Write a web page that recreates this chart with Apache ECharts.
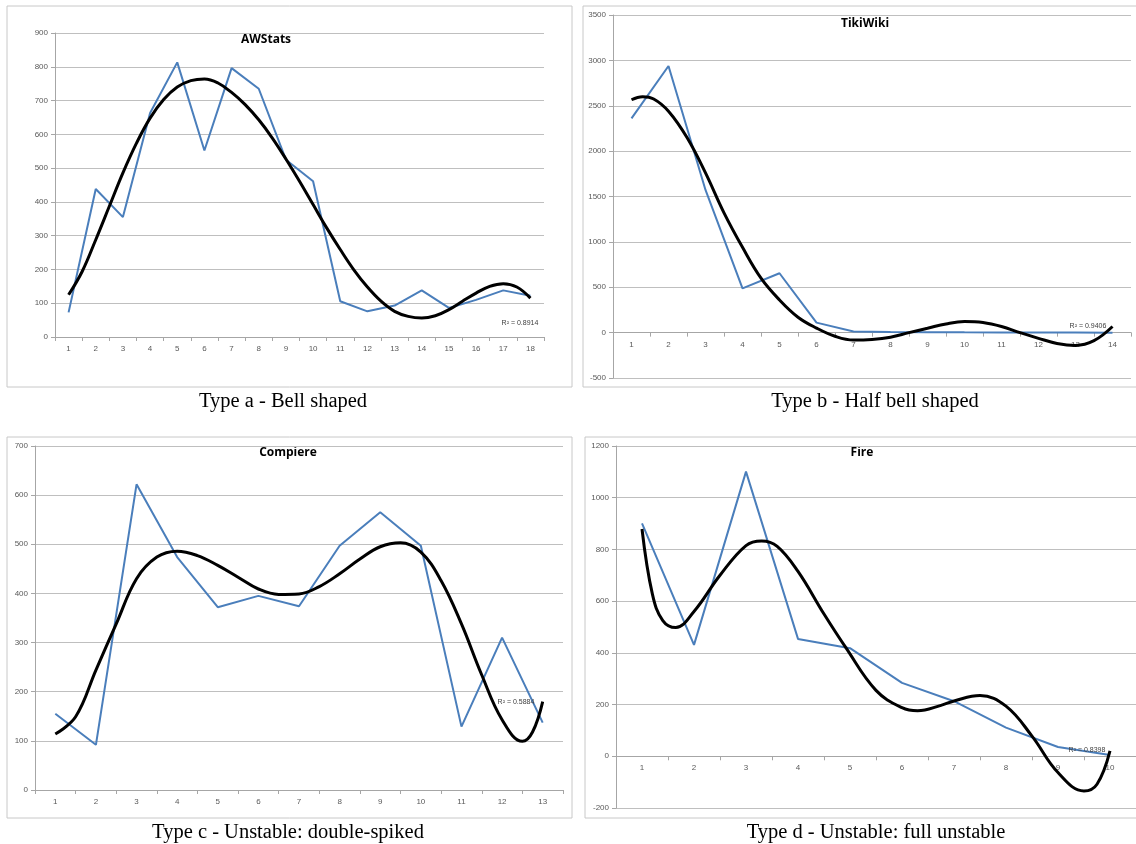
<!DOCTYPE html>
<html>
<head>
<meta charset="utf-8">
<script src="https://cdn.jsdelivr.net/npm/echarts@6/dist/echarts.min.js"></script>
<style>
html,body{margin:0;padding:0;background:#fff;}
#chart{width:1136px;height:844px;}
</style>
</head>
<body>
<div id="chart"></div>
<script>
// ---------- data ----------
const catsA = [1,2,3,4,5,6,7,8,9,10,11,12,13,14,15,16,17,18];
const valuesA = [73,438,355,663,813,552,796,735,525,461,106,76,93,138,86,110,138,122];
const trendA = [[1,125],[1.5,194],[2,288],[2.5,387],[3,486],[3.5,574],[4,648],[4.5,703],[5,740],[5.5,759],[6,764],[6.5,752],[7,724],[7.5,688],[8,643],[8.5,589],[9,527],[9.5,461],[10,392],[10.5,323],[11,259],[11.5,199],[12,148],[12.5,106],[13,76],[13.5,61],[14,56],[14.5,63],[15,81],[15.5,106],[16,130],[16.5,150],[17,158],[17.5,148],[18,115]];

const catsB = [1,2,3,4,5,6,7,8,9,10,11,12,13,14];
const valuesB = [2361,2938,1572,488,654,110,12,8,5,3,2,1,1,0];
const trendB = [[1,2566],[1.3,2600],[1.6,2575],[2,2440],[2.5,2150],[3,1760],[3.5,1320],[4,940],[4.5,600],[5,360],[5.5,170],[6,50],[6.5,-40],[7,-82],[7.5,-75],[8,-50],[8.5,0],[9,48],[9.5,96],[10,122],[10.5,111],[11,67],[11.5,0],[12,-63],[12.5,-119],[13,-141],[13.5,-89],[14,67]];

const catsC = [1,2,3,4,5,6,7,8,9,10,11,12,13];
const valuesC = [155,92,622,474,372,395,374,497,565,497,129,310,137];
const trendC = [[1,114],[1.5,149],[2,244],[2.5,338],[3,430],[3.5,474],[4,486],[4.5,477],[5,457],[5.5,433],[6,409],[6.5,398],[7,399],[7.5,414],[8,440],[8.5,470],[9,495],[9.5,503],[10,484],[10.5,426],[11,338],[11.5,234],[12,143],[12.5,99],[12.75,118],[13,180]];

const catsD = [1,2,3,4,5,6,7,8,9,10];
const valuesD = [901,431,1101,454,418,284,213,111,36,5];
const trendD = [[1,879],[1.2,627],[1.4,525],[1.65,498],[2,560],[2.5,700],[3,815],[3.3,833],[3.6,812],[4,715],[4.5,550],[4.92,420],[5.5,255],[6,188],[6.3,176],[6.75,197],[7,214],[7.5,235],[8,194],[8.5,78],[9,-63],[9.5,-134],[9.75,-108],[10,21]];

const titles = ['AWStats','TikiWiki','Compiere','Fire'];
const captions = ['Type a - Bell shaped','Type b - Half bell shaped','Type c - Unstable: double-spiked','Type d - Unstable: full unstable'];
const r2Labels = ['R\u00B2 = 0.8914','R\u00B2 = 0.9406','R\u00B2 = 0.5884','R\u00B2 = 0.8398'];

// ---------- layout ----------
const grids = [
  {left:55, top:33, width:489, height:304},
  {left:613, top:15, width:518, height:363},
  {left:35, top:446, width:528, height:344},
  {left:616, top:446, width:520, height:362}
];
const yRanges = [[0,900,100],[-500,3500,500],[0,700,100],[-200,1200,200]];
const cats = [catsA,catsB,catsC,catsD];
const vals = [valuesA,valuesB,valuesC,valuesD];
const trends = [trendA,trendB,trendC,trendD];
const frames = [[7,6,565,381],[583,6,560,381],[7,437,565,381],[585,437,560,381]];
const titlePos = [[266,40],[865,24],[288,453],[862,453]];
const captionPos = [[283,402],[875,402],[288,833],[876,833]];
const r2Pos = [[520,323],[1088,326],[516,702],[1087,750]];

const axisFont = {fontFamily:'Liberation Sans', fontSize:8, color:'#595959'};
const xAxes = [], yAxes = [], series = [], graphics = [];
for (let k=0;k<4;k++){
  const n = cats[k].length;
  const tickPos = [];
  for (let i=0;i<=n;i++) tickPos.push(i+0.5);
  const yMin = yRanges[k][0], yMax = yRanges[k][1];
  // place the category axis on the zero line (Excel style)
  const zeroOffset = -grids[k].height * Math.max(0, -yMin) / (yMax - yMin);
  xAxes.push({
    type:'value', gridIndex:k, min:0.5, max:n+0.5, position:'bottom', offset:zeroOffset,
    axisLine:{show:true, onZero:false, lineStyle:{color:'#a6a6a6', width:1}},
    axisTick:{show:true, length:4, customValues:tickPos, lineStyle:{color:'#a6a6a6'}},
    axisLabel:Object.assign({margin:8, customValues:cats[k], formatter:v=>String(v)}, axisFont),
    splitLine:{show:false}
  });
  yAxes.push({
    type:'value', gridIndex:k, min:yMin, max:yMax, interval:yRanges[k][2],
    axisLine:{show:true, onZero:false, lineStyle:{color:'#a6a6a6', width:1}},
    axisTick:{show:true, length:4, lineStyle:{color:'#a6a6a6'}},
    axisLabel:Object.assign({margin:7, formatter:v=>String(v)}, axisFont),
    splitLine:{show:true, lineStyle:{color:'#bfbfbf', width:1}}
  });
  series.push({
    type:'line', xAxisIndex:k, yAxisIndex:k, data:vals[k].map((v,i)=>[cats[k][i], v]), symbol:'none',
    lineStyle:{color:'#4a7ebb', width:2}, z:2
  });
  series.push({
    type:'line', xAxisIndex:k, yAxisIndex:k, data:trends[k], symbol:'none', smooth:0.4,
    lineStyle:{color:'#000000', width:3}, z:3
  });
  graphics.push({
    type:'rect', shape:{x:frames[k][0], y:frames[k][1], width:frames[k][2], height:frames[k][3]},
    style:{fill:'none', stroke:'#c8c8c8', lineWidth:1}, z:-1
  });
  graphics.push({
    type:'text', x:titlePos[k][0], y:titlePos[k][1],
    style:{text:titles[k], fill:'#000', font:'bold 12px "Open Sans", "Liberation Sans"', align:'center', verticalAlign:'middle', textAlign:'center', textVerticalAlign:'middle'}
  });
  graphics.push({
    type:'text', x:captionPos[k][0], y:captionPos[k][1],
    style:{text:captions[k], fill:'#000', font:'20.5px "Liberation Serif", "DejaVu Serif"', align:'center', verticalAlign:'middle', textAlign:'center', textVerticalAlign:'middle'}
  });
  graphics.push({
    type:'text', x:r2Pos[k][0], y:r2Pos[k][1], z:10,
    style:{text:r2Labels[k], fill:'#404040', font:'7px "Liberation Sans"', align:'center', verticalAlign:'middle', textAlign:'center', textVerticalAlign:'middle'}
  });
}

const chart = echarts.init(document.getElementById('chart'), null, {renderer:'canvas'});
chart.setOption({
  animation:false,
  backgroundColor:'#ffffff',
  grid:grids,
  xAxis:xAxes,
  yAxis:yAxes,
  series:series,
  graphic:graphics
});
</script>
</body>
</html>
